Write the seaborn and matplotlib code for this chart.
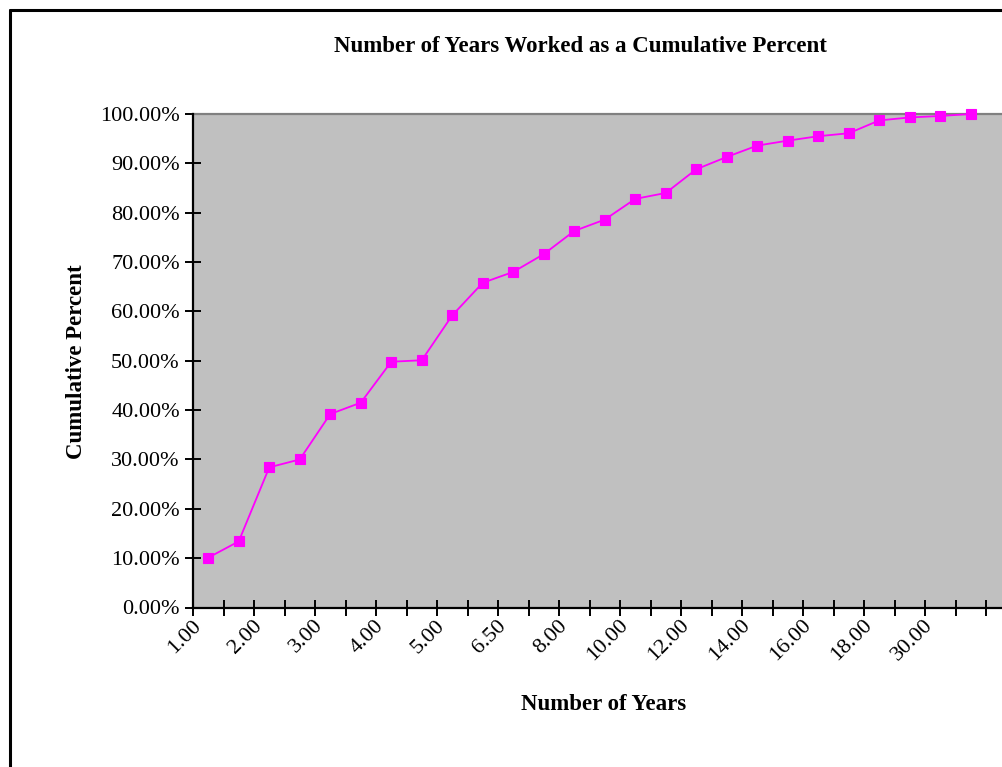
import matplotlib
matplotlib.use("Agg")
import matplotlib.pyplot as plt
import matplotlib.ticker as mticker
from matplotlib.lines import Line2D
from matplotlib.transforms import ScaledTranslation
import seaborn as sns
import pandas as pd

# ---- data ----
years = ["1.00", "1.50", "2.00", "2.50", "3.00", "3.50", "4.00", "4.50", "5.00",
         "6.00", "6.50", "7.00", "8.00", "9.00", "10.00", "11.00", "12.00", "13.00",
         "14.00", "15.00", "16.00", "17.00", "18.00", "20.00", "30.00", "35.00"]
cumulative_percent = [10.1, 13.4, 28.4, 30.0, 39.2, 41.5, 49.8, 50.1, 59.2,
                      65.8, 68.0, 71.6, 76.3, 78.6, 82.8, 84.0, 88.8, 91.3,
                      93.6, 94.6, 95.5, 96.1, 98.7, 99.3, 99.6, 100.0]
label_every = 2
y_ticks = [0, 10, 20, 30, 40, 50, 60, 70, 80, 90, 100]

title = "Number of Years Worked as a Cumulative Percent"
x_title = "Number of Years"
y_title = "Cumulative Percent"

# ---- style ----
sns.set_style("white")
plt.rcParams["font.family"] = ["Liberation Serif", "DejaVu Serif"]
plt.rcParams["text.color"] = "black"
plt.rcParams["xtick.color"] = "black"
plt.rcParams["ytick.color"] = "black"
plt.rcParams["xtick.labelcolor"] = "black"
plt.rcParams["ytick.labelcolor"] = "black"

W, H, DPI = 1002, 767, 100
fig = plt.figure(figsize=(W / DPI, H / DPI), dpi=DPI)

# plot area in pixels (extends beyond right edge of the picture, as in the reference)
left_px, right_px, top_px, bottom_px = 193, 1016.5, 114, 607.5
ax = fig.add_axes([left_px / W, 1 - bottom_px / H,
                   (right_px - left_px) / W, (bottom_px - top_px) / H])
ax.set_facecolor("#C0C0C0")

df = pd.DataFrame({"Years": pd.Categorical(years, categories=years, ordered=True),
                   "Cumulative": cumulative_percent})
sns.pointplot(data=df, x="Years", y="Cumulative", ax=ax, color="#FF00FF",
              markers="s", linestyles="-", linewidth=1.3, markersize=7,
              errorbar=None, native_scale=False)
for ln in ax.lines:
    ln.set_markeredgecolor("#FF00FF")
    ln.set_markeredgewidth(0.8)
    ln.set_clip_on(False)
    ln.set_zorder(5)

n = len(years)
ax.set_xlim(-0.5, n + 0.5)
ax.set_ylim(0, 100)

# major ticks at category boundaries, labels at every other category
ax.set_xticks([i - 0.5 for i in range(n + 2)])
ax.set_xticklabels([])
ax.set_xticks(list(range(0, n, label_every)), minor=True)
ax.set_xticklabels([years[i] for i in range(0, n, label_every)], minor=True,
                   rotation=45, ha="right", va="center", rotation_mode="anchor",
                   fontsize=16, color="black")
ax.tick_params(axis="x", which="major", bottom=True, direction="inout", length=11,
               width=1.4, color="black")
ax.tick_params(axis="x", which="minor", bottom=True, length=0, pad=11)
shift = ScaledTranslation(-10 / DPI, 0, fig.dpi_scale_trans)
for lab in ax.get_xticklabels(minor=True):
    lab.set_transform(lab.get_transform() + shift)

ax.set_yticks(y_ticks)
ax.yaxis.set_major_formatter(mticker.FuncFormatter(lambda v, p: f"{v:.2f}%"))
ax.tick_params(axis="y", left=True, direction="inout", length=11, width=1.4,
               color="black", labelsize=16, labelcolor="black", pad=4)

for s in ["left", "bottom"]:
    ax.spines[s].set_color("black")
    ax.spines[s].set_linewidth(1.6)
    ax.spines[s].set_zorder(6)
ax.spines["top"].set_color("#808080")
ax.spines["top"].set_linewidth(1.6)
ax.spines["right"].set_color("#808080")
ax.spines["right"].set_linewidth(1.6)

ax.set_xlabel("")
ax.set_ylabel("")

# titles
fig.text(580 / W, 1 - 46 / H, title, ha="center", va="center",
         fontsize=16.5, fontweight="bold", color="black")
fig.text(604 / W, 1 - 704 / H, x_title, ha="center", va="center",
         fontsize=16.5, fontweight="bold", color="black")
fig.text(76 / W, 1 - 362 / H, y_title, ha="center", va="center",
         rotation=90, fontsize=16.5, fontweight="bold", color="black")

# chart-area border (left and top visible, the rest is cut off)
fig.add_artist(Line2D([10 / W, 10 / W], [0, 1 - 10 / H], color="black",
                      linewidth=2.2, transform=fig.transFigure))
fig.add_artist(Line2D([10 / W, 1.0], [1 - 10 / H, 1 - 10 / H], color="black",
                      linewidth=2.2, transform=fig.transFigure))

fig.savefig("out.png", dpi=DPI, facecolor="white")
